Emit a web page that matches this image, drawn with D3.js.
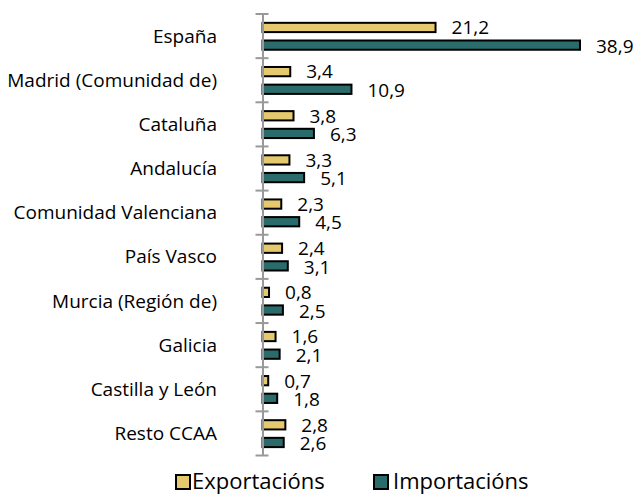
<!DOCTYPE html>
<html><head><meta charset="utf-8">
<script src="https://cdn.jsdelivr.net/npm/d3@7"></script>
<style>body{margin:0;background:#fff}svg{display:block}</style>
</head><body><svg id="c" width="635" height="495"></svg>
<script>
const categories = ["España","Madrid (Comunidad de)","Cataluña","Andalucía","Comunidad Valenciana","País Vasco","Murcia (Región de)","Galicia","Castilla y León","Resto CCAA"];
const exportaciones = [21.2,3.4,3.8,3.3,2.3,2.4,0.8,1.6,0.7,2.8];
const importaciones = [38.9,10.9,6.3,5.1,4.5,3.1,2.5,2.1,1.8,2.6];
const seriesNames = ["Exportacións","Importacións"];
const colors = ["#E5C96E","#2A6B6B"];

(function(){
const svg = d3.select("#c");
const font = "'Open Sans', sans-serif";
const x0 = 262.5, yTop = 14, yBottom = 455.5;
const x = d3.scaleLinear().domain([0,38.9]).range([x0,580]);
const y = d3.scaleBand().domain(categories).range([yTop,yBottom]);
const bw = y.bandwidth();

const series = [exportaciones, importaciones];
series.forEach((vals,si)=>{
  svg.append("g").selectAll("rect").data(vals).join("rect")
    .attr("x", x0)
    .attr("y",(d,i)=> y(categories[i]) + (si===0? bw*0.2 : bw*0.6))
    .attr("width", d=> x(d)-x0)
    .attr("height", bw*0.21)
    .attr("fill", colors[si]).attr("stroke","#000").attr("stroke-width",2);
  svg.append("g").selectAll("text").data(vals).join("text")
    .attr("x", d=> x(d)+16)
    .attr("y",(d,i)=> y(categories[i]) + (si===0? bw*0.31 : bw*0.73))
    .attr("dy","0.35em")
    .attr("font-family",font).attr("font-size",19).attr("fill","#000")
    .text(d=> d3.format(".1f")(d).replace(".",","));
});

const ax = svg.append("g").attr("transform",`translate(${x0},0)`)
  .call(d3.axisLeft(y).tickValues([]).tickSize(0));
ax.select(".domain").attr("stroke","#999").attr("stroke-width",2);
const tickYs = categories.map(c=>y(c)).concat([yBottom]);
svg.append("g").selectAll("line").data(tickYs).join("line")
  .attr("x1",x0-7).attr("x2",x0+6).attr("y1",d=>d).attr("y2",d=>d)
  .attr("stroke","#999").attr("stroke-width",2);

svg.append("g").selectAll("text").data(categories).join("text")
  .attr("x",217).attr("y",d=>y(d)+bw/2).attr("dy","0.35em")
  .attr("text-anchor","end").attr("font-family",font).attr("font-size",19).attr("fill","#000")
  .text(d=>d);

const leg = [[176,192],[374,393]];
seriesNames.forEach((n,i)=>{
  svg.append("rect").attr("x",leg[i][0]).attr("y",475).attr("width",14).attr("height",14)
    .attr("fill",colors[i]).attr("stroke","#000").attr("stroke-width",2);
  svg.append("text").attr("x",leg[i][1]).attr("y",481).attr("dy","0.35em")
    .attr("font-family",font).attr("font-size",22).attr("fill","#000").text(n);
});
})();
</script></body></html>
